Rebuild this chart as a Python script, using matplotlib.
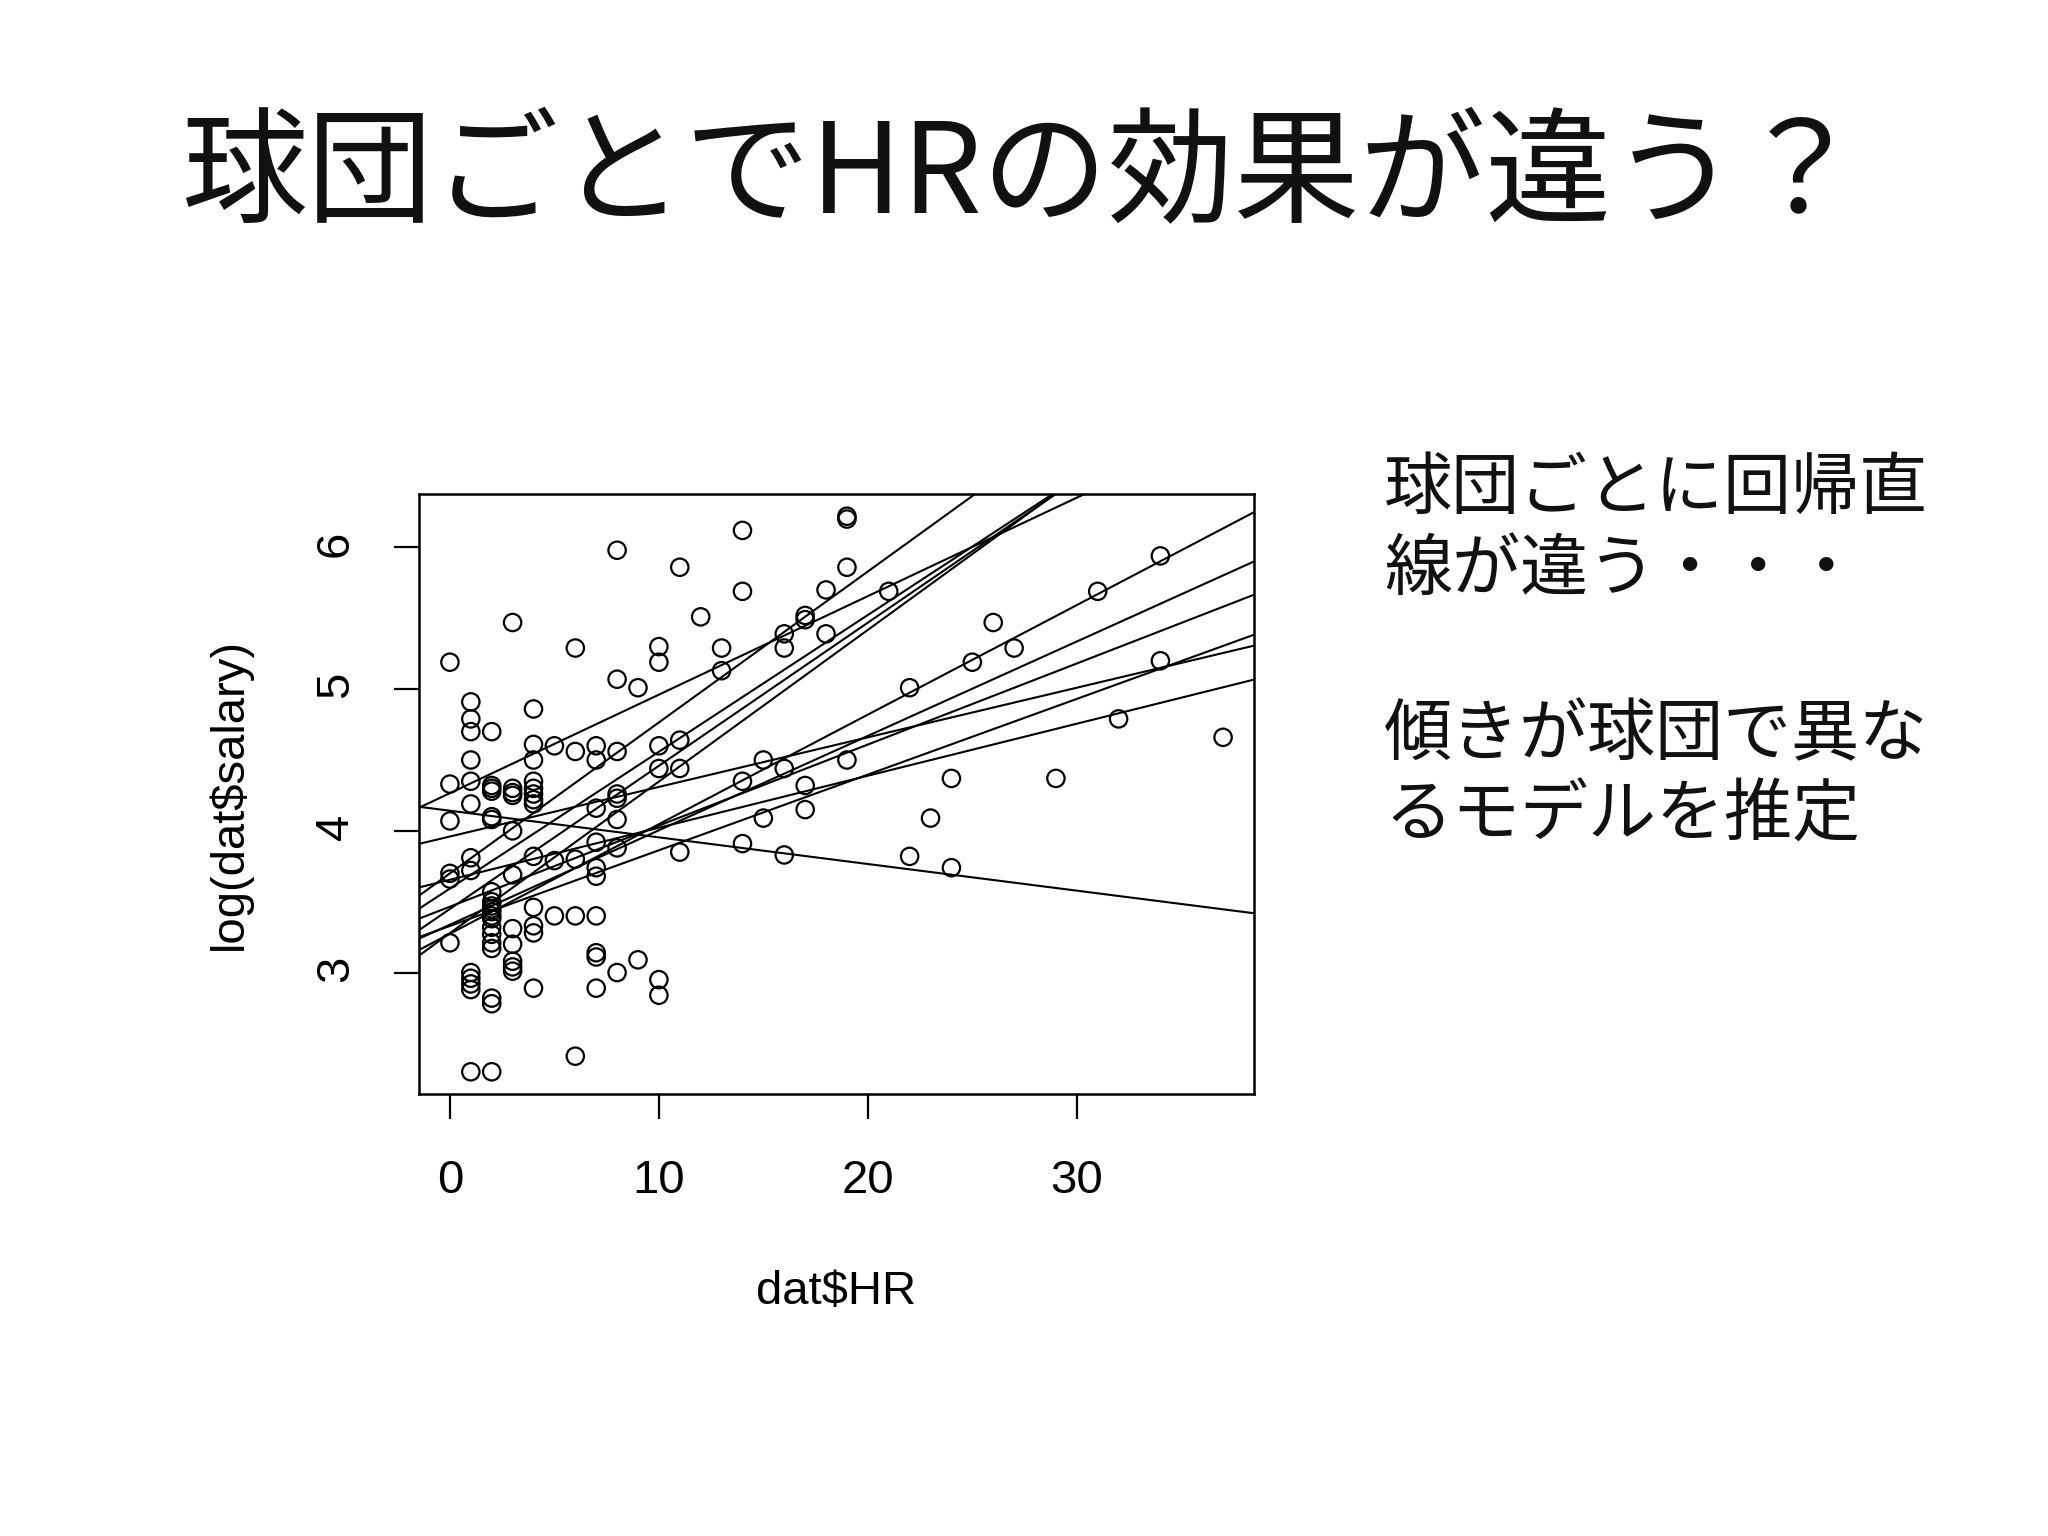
import matplotlib
matplotlib.use("Agg")
import matplotlib.pyplot as plt

plt.rcParams['font.family'] = ['Noto Sans CJK JP', 'DejaVu Sans']

# data (HR, log(salary)) per player
hr = [0, 0, 0, 0, 0, 0,
      1, 1, 1, 1, 1, 1, 1, 1, 1, 1, 1, 1, 1,
      2, 2, 2, 2, 2, 2, 2, 2, 2, 2, 2, 2, 2, 2, 2, 2, 2, 2, 2, 2,
      3, 3, 3, 3, 3, 3, 3, 3, 3, 3, 3,
      4, 4, 4, 4, 4, 4, 4, 4, 4, 4, 4, 4, 4,
      5, 5, 5,
      6, 6, 6, 6, 6,
      7, 7, 7, 7, 7, 7, 7, 7, 7, 7,
      8, 8, 8, 8, 8, 8, 8, 8,
      9, 9,
      10, 10, 10, 10, 10, 10,
      11, 11, 11, 11,
      12,
      13, 13,
      14, 14, 14, 14,
      15, 15,
      16, 16, 16, 16,
      17, 17, 17, 17,
      18, 18,
      19, 19, 19, 19,
      21, 22, 22, 23, 24, 24, 25, 26, 27, 29, 31, 32, 34, 34, 37]
log_salary = [5.19, 4.33, 4.07, 3.70, 3.66, 3.21,
              4.91, 4.79, 4.70, 4.50, 4.35, 4.19, 3.81, 3.72, 3.00, 2.96, 2.92, 2.88, 2.30,
              4.70, 4.32, 4.30, 4.28, 4.10, 4.08, 3.57, 3.50, 3.47, 3.45, 3.43, 3.40, 3.38, 3.32, 3.27, 3.21, 3.17, 2.82, 2.78, 2.30,
              5.47, 4.30, 4.27, 4.25, 4.00, 3.69, 3.31, 3.20, 3.08, 3.04, 3.01,
              4.86, 4.61, 4.50, 4.35, 4.30, 4.26, 4.22, 4.19, 3.82, 3.46, 3.33, 3.28, 2.89,
              4.60, 3.79, 3.40,
              5.29, 4.56, 3.80, 3.40, 2.41,
              4.60, 4.50, 4.16, 3.92, 3.74, 3.68, 3.40, 3.14, 3.11, 2.89,
              5.98, 5.07, 4.56, 4.26, 4.23, 4.08, 3.88, 3.00,
              5.01, 3.09,
              5.30, 5.19, 4.60, 4.44, 2.95, 2.84,
              5.86, 4.64, 4.44, 3.85,
              5.51,
              5.29, 5.13,
              6.12, 5.69, 4.35, 3.91,
              4.50, 4.09,
              5.39, 5.29, 4.44, 3.83,
              5.52, 5.49, 4.32, 4.15,
              5.70, 5.39,
              6.22, 6.20, 5.86, 4.50,
              5.69, 5.01, 3.82, 4.09, 4.37, 3.74, 5.19, 5.47, 5.29, 4.37, 5.69, 4.79, 5.94, 5.20, 4.66]

# one regression line per team (intercept, slope)
team_intercept = [4.142, 4.266, 3.960, 3.655, 3.700, 3.593, 3.465, 3.449, 3.329, 3.338, 3.274, 3.278]
team_slope = [-0.0188, 0.0695, 0.035, 0.0367, 0.1065, 0.0965, 0.0572, 0.101, 0.0534, 0.0666, 0.0773, 0.107]

title = "球団ごとでHRの効果が違う？"
notes = ["球団ごとに回帰直", "線が違う・・・", "傾きが球団で異な", "るモデルを推定"]
notes_y = [490, 571, 736, 817]

W, H = 2048, 1536
fig = plt.figure(figsize=(W / 100, H / 100), dpi=100)
fig.patch.set_facecolor("white")

fig.text(1022 / W, 1 - 178 / H, title, ha="center", va="center", fontsize=90.6, color="#111111")
for txt, y in zip(notes, notes_y):
    fig.text(1384 / W, 1 - y / H, txt, ha="left", va="center", fontsize=49, color="#111111")

ax = fig.add_axes([419 / W, 1 - 1094 / H, (1254 - 419) / W, 600 / H])

ax.scatter(hr, log_salary, s=12.5 ** 2, facecolors="none", edgecolors="black", linewidths=1.6, zorder=3)
for a, b in zip(team_intercept, team_slope):
    ax.axline((0, a), slope=b, color="black", lw=1.5, zorder=2)

# R style axis range: data range padded by 4%
xlo, xhi = min(hr), max(hr)
ylo, yhi = min(log_salary), max(log_salary)
ax.set_xlim(xlo - 0.04 * (xhi - xlo), xhi + 0.04 * (xhi - xlo))
ax.set_ylim(ylo - 0.04 * (yhi - ylo), yhi + 0.04 * (yhi - ylo))

ax.set_xticks([0, 10, 20, 30])
ax.set_yticks([3, 4, 5, 6])
rfont = ["Liberation Sans", "DejaVu Sans"]
for lab in ax.get_xticklabels() + ax.get_yticklabels():
    lab.set_family(rfont)
ax.tick_params(direction="out", length=18, width=1.6, labelsize=34, pad=26, colors="black")
ax.tick_params(axis="x", pad=29)
ax.tick_params(axis="y", labelrotation=90)
for sp in ax.spines.values():
    sp.set_linewidth(1.8)

ax.set_xlabel("dat$HR", fontsize=34, family=rfont, va="center")
ax.set_ylabel("log(dat$salary)", fontsize=34, family=rfont, va="center")
ax.xaxis.set_label_coords(0.5, (1094 - 1292) / 600)
ax.yaxis.set_label_coords((230 - 419) / 835, 0.5)

fig.savefig("out.png", dpi=100, facecolor="white")
